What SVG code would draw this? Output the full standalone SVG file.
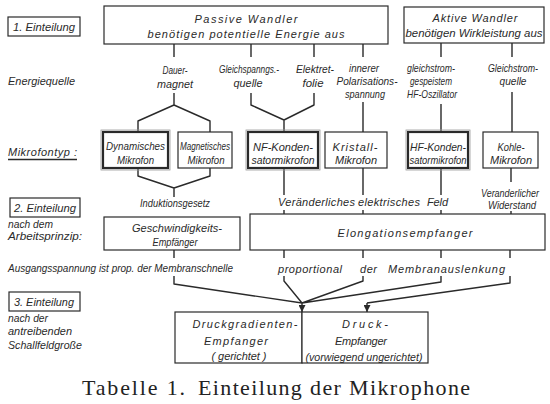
<svg xmlns="http://www.w3.org/2000/svg" width="550" height="404" viewBox="0 0 550 404">
<style>
.t{font-family:"Liberation Sans",Arial,sans-serif;font-style:italic;font-size:11px;fill:#2a2a2a}
.m{text-anchor:middle}
.b{fill:#fff;stroke:#2a2a2a;stroke-width:1.2}
.bd{fill:#fff;stroke:#2a2a2a;stroke-width:2.2}
.bo{fill:none;stroke:#999;stroke-width:0.8}
.l{fill:none;stroke:#2a2a2a;stroke-width:1.4;stroke-linejoin:round}
.cap{font-family:"Liberation Serif","Times New Roman",serif;font-size:22px;fill:#222}
</style>
<defs>
<marker id="ah" viewBox="0 0 8 8" refX="8" refY="4" markerWidth="7" markerHeight="7" markerUnits="userSpaceOnUse" orient="auto">
<path d="M0,0 L8,4 L0,8 z" fill="#2a2a2a"/>
</marker>
</defs>
<rect width="550" height="404" fill="#fff"/>

<g id="connectors">
<path class="l" d="M174,44 V57 M251,44 V57 M314,44 V57 M363,44 V57 M441,43 V57 M512,43 V57"/>
<path class="l" d="M174,93 V105 L138,121 V132 M174,105 L210,121 V132"/>
<path class="l" d="M251,93 V105 L284,120 V132 M314,93 V105 L284,120"/>
<path class="l" d="M363,102 V132 M441,104 V132 M512,92 V132"/>
<path class="l" d="M138,168 V176 L174,188 V197 M210,168 V176 L174,188"/>
<path class="l" d="M284,168 V195 M363,168 V195 M441,168 V195 M511,168 V182"/>
<path class="l" d="M284,210 V214 M363,210 V214 M441,210 V214 M511,211 V214"/>
<path class="l" d="M174,250 V258 M284,250 V258 M363,250 V258 M441,250 V258 M510,250 V258"/>
<path class="l" d="M174,276 V284 L302,303 M284,276 V281 L302,303 M363,276 V281 L302,303 M441,276 V282 L302,303 M510,276 V283 L367,303"/>
<path class="l" d="M302,303 V312" marker-end="url(#ah)"/>
<path class="l" d="M367,303 V312" marker-end="url(#ah)"/>
</g>

<g id="label-einteilung1">
<rect class="b" x="8" y="17" width="72" height="19" stroke-width="1"/>
<text class="t m" x="44" y="31" textLength="62" lengthAdjust="spacingAndGlyphs">1. Einteilung</text>
</g>
<g id="label-energiequelle"><text class="t" x="8" y="85" textLength="67" lengthAdjust="spacingAndGlyphs">Energiequelle</text></g>
<g id="label-mikrofontyp">
<text class="t" x="8" y="156" textLength="69">Mikrofontyp :</text>
<path class="l" stroke-width="1" d="M8,159.5 H77"/>
</g>
<g id="label-einteilung2">
<rect class="b" x="10" y="198" width="70" height="19" stroke-width="1"/>
<text class="t m" x="45" y="212" textLength="62" lengthAdjust="spacingAndGlyphs">2. Einteilung</text>
<text class="t" x="8" y="228" textLength="45" lengthAdjust="spacingAndGlyphs">nach dem</text>
<text class="t" x="8" y="240" textLength="74" lengthAdjust="spacingAndGlyphs">Arbeitsprinzip:</text>
</g>
<g id="label-ausgang"><text class="t" x="8" y="272" textLength="225" lengthAdjust="spacingAndGlyphs">Ausgangsspannung ist prop. der Membranschnelle</text></g>
<g id="label-einteilung3">
<rect class="b" x="9" y="292" width="71" height="19" stroke-width="1"/>
<text class="t m" x="44" y="306" textLength="60" lengthAdjust="spacingAndGlyphs">3. Einteilung</text>
<text class="t" x="8" y="322" textLength="40" lengthAdjust="spacingAndGlyphs">nach der</text>
<text class="t" x="8" y="335" textLength="64" lengthAdjust="spacingAndGlyphs">antreibenden</text>
<text class="t" x="8" y="349" textLength="74" lengthAdjust="spacingAndGlyphs">Schallfeldgroße</text>
</g>

<g id="passiv">
<rect class="b" x="104" y="6" width="284" height="38"/>
<text class="t m" x="246" y="23" font-size="13" textLength="103">Passive Wandler</text>
<text class="t m" x="246" y="38" font-size="12.5" textLength="197">benötigen potentielle Energie aus</text>
</g>
<g id="aktiv">
<rect class="b" x="404" y="7" width="140" height="36"/>
<text class="t m" x="475" y="22" font-size="12.5" textLength="85">Aktive Wandler</text>
<text class="t m" x="474" y="37" textLength="137" lengthAdjust="spacingAndGlyphs">benötigen Wirkleistung aus</text>
</g>

<g id="q-dauermagnet"><text class="t m" x="175" y="74" textLength="25" lengthAdjust="spacingAndGlyphs">Dauer-</text><text class="t m" x="175" y="88" textLength="36" lengthAdjust="spacingAndGlyphs">magnet</text></g>
<g id="q-gleichspannung"><text class="t m" x="249" y="73" font-size="10" textLength="60" lengthAdjust="spacingAndGlyphs">Gleichspanngs.-</text><text class="t m" x="248" y="87" textLength="29" lengthAdjust="spacingAndGlyphs">quelle</text></g>
<g id="q-elektret"><text class="t m" x="315" y="73" textLength="38" lengthAdjust="spacingAndGlyphs">Elektret-</text><text class="t m" x="313" y="87" textLength="21" lengthAdjust="spacingAndGlyphs">folie</text></g>
<g id="q-polarisation"><text class="t m" x="364" y="72" textLength="30" lengthAdjust="spacingAndGlyphs">innerer</text><text class="t m" x="367" y="85" textLength="61" lengthAdjust="spacingAndGlyphs">Polarisations-</text><text class="t m" x="365" y="98" textLength="40" lengthAdjust="spacingAndGlyphs">spannung</text></g>
<g id="q-hf"><text class="t m" x="431" y="72" textLength="48" lengthAdjust="spacingAndGlyphs">gleichstrom-</text><text class="t m" x="431" y="85" textLength="42" lengthAdjust="spacingAndGlyphs">gespeistem</text><text class="t m" x="432" y="98" textLength="50" lengthAdjust="spacingAndGlyphs">HF-Oszillator</text></g>
<g id="q-gleichstrom"><text class="t m" x="513" y="72" textLength="50" lengthAdjust="spacingAndGlyphs">Gleichstrom-</text><text class="t m" x="513" y="85" textLength="27" lengthAdjust="spacingAndGlyphs">quelle</text></g>

<g id="m-dynamisch">
<rect class="bo" x="101" y="130" width="69" height="40"/>
<rect class="bd" x="103" y="132" width="65" height="36"/>
<text class="t m" x="135.5" y="150" textLength="59" lengthAdjust="spacingAndGlyphs">Dynamisches</text><text class="t m" x="135.5" y="164" textLength="37" lengthAdjust="spacingAndGlyphs">Mikrofon</text>
</g>
<g id="m-magnetisch">
<rect class="b" x="178" y="132" width="54" height="36"/>
<text class="t m" x="205" y="150" textLength="50" lengthAdjust="spacingAndGlyphs">Magnetisches</text><text class="t m" x="206" y="164" textLength="37" lengthAdjust="spacingAndGlyphs">Mikrofon</text>
</g>
<g id="m-nf">
<rect class="bo" x="246" y="130" width="74" height="40"/>
<rect class="bd" x="248" y="132" width="70" height="36"/>
<text class="t m" x="283" y="151" textLength="60">NF-Konden-</text><text class="t m" x="283" y="164" textLength="63" lengthAdjust="spacingAndGlyphs">satormikrofon</text>
</g>
<g id="m-kristall">
<rect class="b" x="325" y="132" width="62" height="36"/>
<text class="t m" x="355" y="151" textLength="45">Kristall-</text><text class="t m" x="356" y="164" textLength="42">Mikrofon</text>
</g>
<g id="m-hf">
<rect class="bo" x="406" y="130" width="64" height="40"/>
<rect class="bd" x="408" y="132" width="60" height="36"/>
<text class="t m" x="438" y="151" textLength="56" lengthAdjust="spacingAndGlyphs">HF-Konden-</text><text class="t m" x="438" y="164" textLength="57" lengthAdjust="spacingAndGlyphs">satormikrofon</text>
</g>
<g id="m-kohle">
<rect class="b" x="483" y="132" width="55" height="36"/>
<text class="t m" x="511" y="151" textLength="27" lengthAdjust="spacingAndGlyphs">Kohle-</text><text class="t m" x="511" y="164" textLength="42">Mikrofon</text>
</g>

<g id="p-induktion"><text class="t m" x="175" y="207" textLength="70" lengthAdjust="spacingAndGlyphs">Induktionsgesetz</text></g>
<g id="p-feld"><text class="t" x="278" y="206" textLength="77">Veränderliches</text><text class="t" x="358" y="206" textLength="62">elektrisches</text><text class="t" x="427" y="206" textLength="21">Feld</text></g>
<g id="p-widerstand"><text class="t m" x="510" y="197" font-size="9.5" textLength="58" lengthAdjust="spacingAndGlyphs">Veranderlicher</text><text class="t m" x="512" y="209" textLength="48" lengthAdjust="spacingAndGlyphs">Widerstand</text></g>

<g id="geschwindigkeit">
<rect class="b" x="104" y="217" width="136" height="33"/>
<text class="t m" x="177" y="232" font-size="12" textLength="90">Geschwindigkeits-</text>
<text class="t m" x="175" y="246" font-size="12" textLength="45" lengthAdjust="spacingAndGlyphs">Empfänger</text>
</g>
<g id="elongation">
<rect class="b" x="250" y="214" width="295" height="36"/>
<text class="t m" x="405" y="237" font-size="12.5" textLength="135">Elongationsempfanger</text>
</g>
<g id="p-auslenkung"><text class="t" x="278" y="273" textLength="64">proportional</text><text class="t" x="360" y="273" textLength="17">der</text><text class="t" x="388" y="273" textLength="117">Membranauslenkung</text></g>

<g id="druckgradient">
<rect class="b" x="175" y="312" width="127" height="51"/>
<text class="t m" x="245" y="328" font-size="12" textLength="105">Druckgradienten-</text>
<text class="t m" x="236" y="345" font-size="12" textLength="64">Empfanger</text>
<text class="t m" x="239" y="360" textLength="55">( gerichtet )</text>
</g>
<g id="druck">
<rect class="b" x="302" y="312" width="126" height="51"/>
<text class="t m" x="365" y="328" font-size="12" textLength="46">Druck-</text>
<text class="t m" x="361" y="345" font-size="12" textLength="52">Empfanger</text>
<text class="t m" x="364" y="361" font-size="9.5" textLength="117" lengthAdjust="spacingAndGlyphs">(vorwiegend ungerichtet)</text>
</g>

<g id="caption">
<text class="cap" x="82" y="395" textLength="103">Tabelle 1.</text>
<text class="cap" x="198" y="395" textLength="272">Einteilung der Mikrophone</text>
</g>
</svg>
